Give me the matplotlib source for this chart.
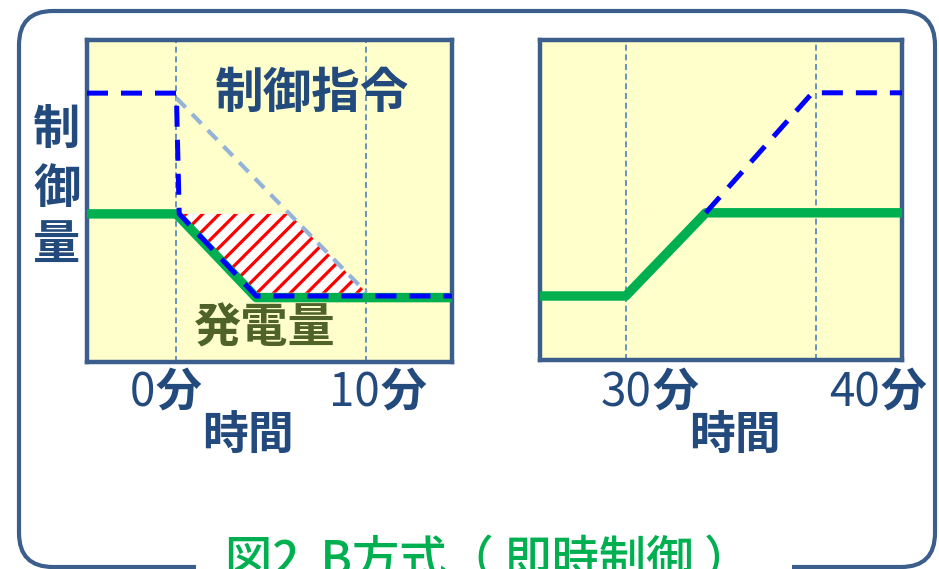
import matplotlib
matplotlib.use("Agg")
import matplotlib.pyplot as plt
import numpy as np
from matplotlib.patches import FancyBboxPatch, Rectangle
from matplotlib.transforms import Affine2D

plt.rcParams["font.family"] = ["Noto Sans CJK JP", "DejaVu Sans"]

# ---- data (time in minutes, control quantity in arbitrary units 0-100) ----
HIGH, MID, LOW = 83.5, 46.0, 20.0

left_xlim = (-4.7, 14.5)
left_marks = [0, 10]
left_tick_labels = ["0", "10"]
left_gen_t = [-4.7, 0.0, 4.2, 14.5]
left_gen = [MID, MID, LOW, LOW]
left_cmd_t = [-4.7, 0.0, 0.15, 4.2, 14.5]
left_cmd = [HIGH, HIGH, MID, 20.5, 20.5]
left_ramp_t = [0.0, 10.0]
left_ramp = [82.0, 21.5]

right_xlim = (25.5, 44.5)
right_marks = [30, 40]
right_tick_labels = ["30", "40"]
right_gen_t = [25.5, 30.0, 34.2, 44.5]
right_gen = [LOW, LOW, MID, MID]
right_cmd_t = [34.2, 39.8, 44.5]
right_cmd = [MID, HIGH, HIGH]

# ---- colours ----
NAVY = "#234A7C"
FRAME = "#3B5E8C"
PANEL_BG = "#FFFFCC"
GRID = "#4F81BD"
GEN_GREEN = "#00B050"
CMD_BLUE = "#0000FF"
RAMP_BLUE = "#95B3D7"
OLIVE = "#4F6228"

W, H = 939, 569
fig = plt.figure(figsize=(W / 100, H / 100), dpi=100)
fig.patch.set_facecolor("white")
# pixel coordinates measured from the top-left corner
px = Affine2D().scale(1 / W, -1 / H).translate(0, 1) + fig.transFigure

# outer rounded frame, with a gap in its bottom edge for the caption
frame = FancyBboxPatch((19, 11), 916, 556, boxstyle="round,pad=0,rounding_size=34",
                       transform=px, facecolor="none", edgecolor=FRAME, linewidth=3.0,
                       zorder=0)
fig.patches.append(frame)
fig.patches.append(Rectangle((196, 540), 596, 35, transform=px, facecolor="white",
                             edgecolor="none", zorder=1))


def make_panel(x0, y0, x1, y1, xlim):
    ax = fig.add_axes([x0 / W, 1 - y1 / H, (x1 - x0) / W, (y1 - y0) / H])
    ax.set_facecolor(PANEL_BG)
    ax.set_xlim(*xlim)
    ax.set_ylim(0, 100)
    ax.set_xticks([])
    ax.set_yticks([])
    for sp in ax.spines.values():
        sp.set_color(FRAME)
        sp.set_linewidth(3.2)
    return ax


def guide_lines(ax, marks):
    for m in marks:
        ax.axvline(m, color=GRID, lw=1.2, linestyle=(0, (3.6, 2.2)), zorder=1)


# ---- left panel: command drops instantly ----
axL = make_panel(87, 40, 452, 362, left_xlim)
guide_lines(axL, left_marks)

# hatched area between the generation ramp and the ideal command ramp
yy = np.linspace(left_ramp[1], MID, 60)
x_gen = np.interp(yy, left_gen[2:0:-1], left_gen_t[2:0:-1])
x_ramp = np.interp(yy, left_ramp[::-1], left_ramp_t[::-1])
plt.rcParams["hatch.linewidth"] = 2.3
axL.fill_betweenx(yy, x_gen, x_ramp, facecolor="white", edgecolor="red",
                  hatch="//", linewidth=0, zorder=2)

axL.plot(left_ramp_t, left_ramp, color=RAMP_BLUE, lw=3.0,
         linestyle=(0, (3.2, 2.2)), dash_capstyle="butt", zorder=3)
axL.plot(left_gen_t, left_gen, color=GEN_GREEN, lw=6.8,
         solid_capstyle="butt", solid_joinstyle="round", zorder=4)
axL.plot(left_cmd_t, left_cmd, color=CMD_BLUE, lw=3.6,
         linestyle=(0, (4.2, 2.6)), dash_capstyle="butt", zorder=5)

# ---- right panel: command rises gradually ----
axR = make_panel(540, 40, 902, 360, right_xlim)
guide_lines(axR, right_marks)
axR.plot(right_gen_t, right_gen, color=GEN_GREEN, lw=6.8,
         solid_capstyle="butt", solid_joinstyle="round", zorder=4)
axR.plot(right_cmd_t, right_cmd, color=CMD_BLUE, lw=3.6,
         linestyle=(0, (4.2, 2.6)), dash_capstyle="butt", zorder=5)

# ---- in-panel labels ----
fig.text(311, 93, "制御指令", transform=px, ha="center", va="center",
         fontsize=35, fontweight="bold", color=NAVY)
fig.text(265, 328, "発電量", transform=px, ha="center", va="center",
         fontsize=34, fontweight="bold", color=OLIVE)

# vertical axis title, one character per line
for ch, y in zip("制御量", [130, 189, 245]):
    fig.text(57, y, ch, transform=px, ha="center", va="center",
             fontsize=34, fontweight="bold", color=NAVY)

# time labels: number in regular weight followed by a bold 分
tick_anchor_x = [155, 380, 652, 880]
for lab, x in zip(left_tick_labels + right_tick_labels, tick_anchor_x):
    fig.text(x, 393, lab, transform=px, ha="right", va="center",
             fontsize=33, color=NAVY)
    fig.text(x, 393, "分", transform=px, ha="left", va="center",
             fontsize=33, fontweight="bold", color=NAVY)

for x in [248, 735]:
    fig.text(x, 437, "時間", transform=px, ha="center", va="center",
             fontsize=33, fontweight="bold", color=NAVY)

# caption sitting on the bottom edge of the frame
fig.text(488, 562, "図2  B方式（ 即時制御 ）", transform=px, ha="center", va="center",
         fontsize=34, fontweight="medium", color=GEN_GREEN, zorder=2)

fig.savefig("out.png", dpi=100, facecolor="white")
